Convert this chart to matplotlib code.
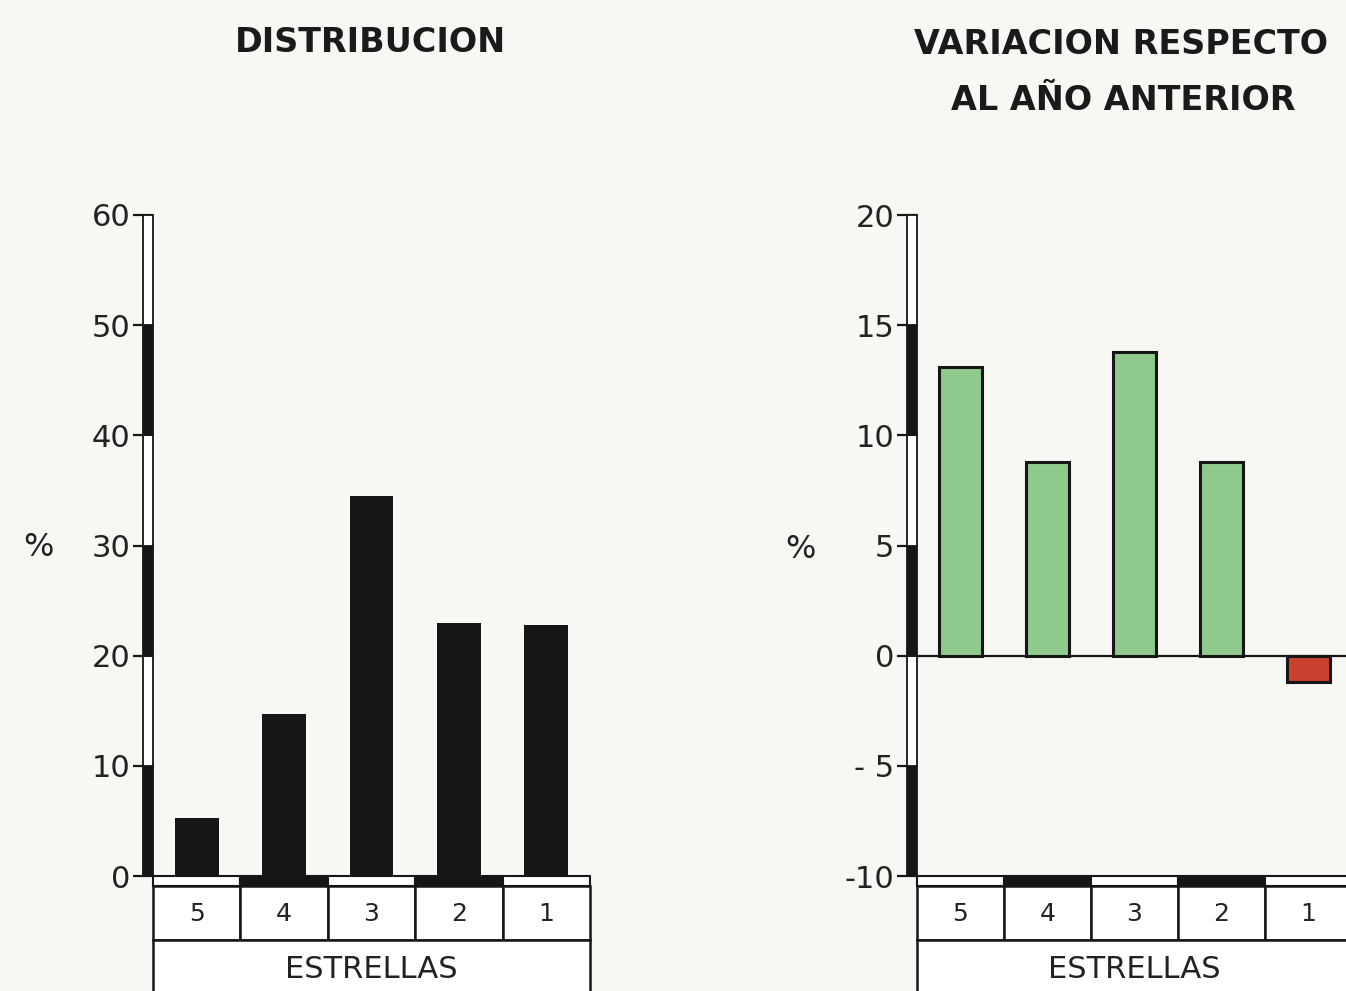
import matplotlib
matplotlib.use('Agg')
import matplotlib.pyplot as plt
from matplotlib.patches import Rectangle
from matplotlib.transforms import blended_transform_factory as btf

# ---------------- data ----------------
categories = ['5', '4', '3', '2', '1']
distribution = [5.3, 14.7, 34.5, 23.0, 22.8]
variation = [13.1, 8.8, 13.8, 8.8, -1.2]
dist_ticks = [0, 10, 20, 30, 40, 50, 60]
dist_ticklabels = ['0', '10', '20', '30', '40', '50', '60']
var_ticks = [-10, -5, 0, 5, 10, 15, 20]
var_ticklabels = ['-10', '- 5', '0', '5', '10', '15', '20']
xlabel = 'ESTRELLAS'
ylabel = '%'
title_left = 'DISTRIBUCION'
title_right = ['VARIACION RESPECTO', 'AL AÑO ANTERIOR']

plt.rcParams['font.family'] = ['DejaVu Sans']

W, H = 1346, 991
BG = '#f7f7f4'
INK = '#161616'
GREEN = '#8fc98b'
RED = '#c9412e'

fig = plt.figure(figsize=(W / 100, H / 100), dpi=100, facecolor=BG)


def px_axes(x0, x1, ytop, ybot):
    return fig.add_axes([x0 / W, 1 - ybot / H, (x1 - x0) / W, (ybot - ytop) / H])


def style(ax, ticks, labels, wpx, hpx):
    ax.set_facecolor('none')
    for s in ax.spines.values():
        s.set_visible(False)
    ax.set_xlim(-0.5, len(categories) - 0.5)
    ax.set_ylim(ticks[0], ticks[-1])
    ax.set_xticks([])
    ax.set_yticks(ticks)
    ax.set_yticklabels(labels, fontsize=22, color='#222222')
    ax.tick_params(axis='y', length=14.4, width=1.6, pad=2, color=INK)
    # zebra double-line y spine
    ty = btf(ax.transAxes, ax.transData)
    sw = 10 / wpx
    for i, (a, b) in enumerate(zip(ticks[:-1], ticks[1:])):
        ax.add_patch(Rectangle((-sw, a), sw, b - a, transform=ty,
                               facecolor=INK if i % 2 == 0 else 'white',
                               edgecolor=INK, lw=1.3, clip_on=False, zorder=6))
    # category boxes below
    tx = btf(ax.transData, ax.transAxes)
    strip = 10 / hpx
    box = 64 / hpx
    for i, c in enumerate(categories):
        ax.add_patch(Rectangle((i - 0.5, -strip), 1, strip, transform=tx,
                               facecolor=INK if i % 2 == 1 else 'white',
                               edgecolor=INK, lw=1.5, clip_on=False, zorder=6))
        ax.add_patch(Rectangle((i - 0.5, -box), 1, box - strip, transform=tx,
                               facecolor='white', edgecolor=INK, lw=1.8,
                               clip_on=False, zorder=6))
        ax.text(i, -(strip + box) / 2 - 0.002, c, transform=tx, ha='center',
                va='center', fontsize=18, color='#222222', zorder=7)
    ax.add_patch(Rectangle((-0.5, -0.4), len(categories), 0.4 - box,
                           transform=tx, facecolor='white', edgecolor=INK,
                           lw=1.8, clip_on=False, zorder=6))
    ax.text((len(categories) - 1) / 2, -93 / hpx, xlabel, transform=tx,
            ha='center', va='center', fontsize=22, color='#222222', zorder=7)


# ---------------- left panel ----------------
axL = px_axes(153, 590, 215, 876)
style(axL, dist_ticks, dist_ticklabels, 437, 661)
axL.bar(range(len(categories)), distribution, width=0.5, color=INK, zorder=3)

# ---------------- right panel ----------------
axR = px_axes(917, 1352, 215, 876)
style(axR, var_ticks, var_ticklabels, 435, 661)
axR.axhline(0, color=INK, lw=1.6, zorder=2)
axR.bar(range(len(categories)), variation, width=0.5,
        color=[GREEN if v >= 0 else RED for v in variation],
        edgecolor=INK, linewidth=2.2, zorder=3)

# ---------------- text ----------------
tkw = dict(ha='center', va='center', fontsize=24, fontweight='bold',
           color='#1a1a1a')
fig.text(370 / W, 1 - 42 / H, title_left, **tkw)
fig.text(1121 / W, 1 - 44 / H, title_right[0], **tkw)
fig.text(1123 / W, 1 - 100 / H, title_right[1], **tkw)
fig.text(38 / W, 1 - 548 / H, ylabel, ha='center', va='center',
         fontsize=23, color='#222222')
fig.text(800 / W, 1 - 550 / H, ylabel, ha='center', va='center',
         fontsize=23, color='#222222')

fig.savefig('out.png', dpi=100, facecolor=BG)
